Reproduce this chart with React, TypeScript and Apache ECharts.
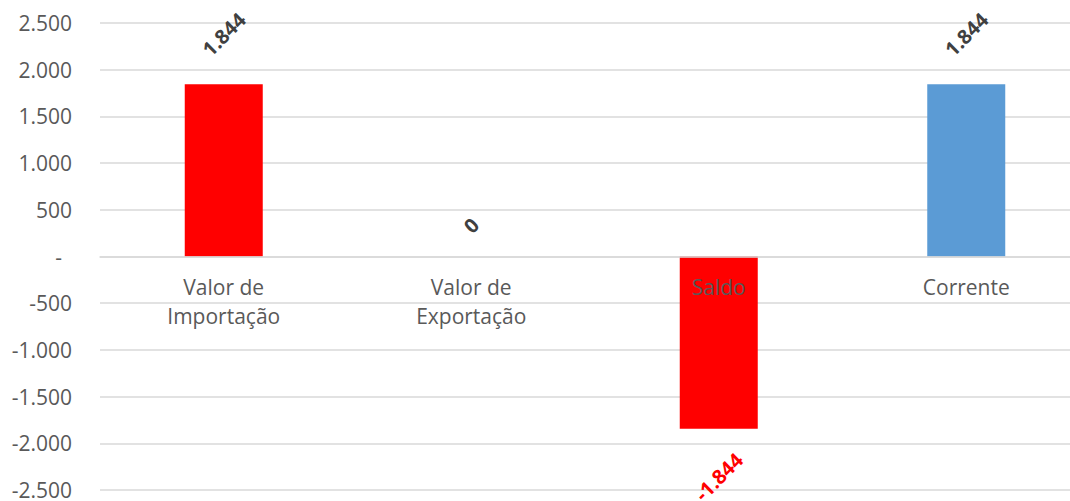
import React, { useEffect, useRef } from "react";
import * as echarts from "echarts";

const categories = ["Valor de\nImportação", "Valor de\nExportação", "Saldo", "Corrente"];
const values = [1844, 0, -1844, 1844];
const barColors = ["#FF0000", "#FF0000", "#FF0000", "#5B9BD5"];
const yMin = -2500;
const yMax = 2500;
const yInterval = 500;

const FONT = "'Open Sans', 'Noto Sans', sans-serif";
const GRID_TOP = 23;
const GRID_BOTTOM = 11;
const CHART_H = 501;

function fmt(v: number): string {
  const s = Math.round(Math.abs(v)).toString().replace(/\B(?=(\d{3})+(?!\d))/g, ".");
  return (v < 0 ? "-" : "") + s;
}

export default function App() {
  const ref = useRef<HTMLDivElement>(null);
  useEffect(() => {
    if (!ref.current) return;
    const chart = echarts.init(ref.current, null, { renderer: "svg" });
    const plotH = CHART_H - GRID_TOP - GRID_BOTTOM;
    const zeroFromBottom = (plotH * (0 - yMin)) / (yMax - yMin);
    const data = values.map((v, i) => {
      const neg = v < 0;
      const zero = v === 0;
      return {
        value: v,
        itemStyle: { color: barColors[i] },
        label: {
          show: true,
          position: neg ? "bottom" : "top",
          distance: zero ? 31 : neg ? 48 : 50,
          rotate: 45,
          align: "center",
          verticalAlign: "middle",
          color: neg ? "#FF0000" : "#404040",
          fontWeight: "bold",
          fontSize: 20,
          fontFamily: FONT,
          formatter: () => fmt(v),
        },
      };
    });
    chart.setOption({
      animation: false,
      grid: {
        left: 100,
        right: 0,
        top: GRID_TOP,
        bottom: GRID_BOTTOM,
        containLabel: false,
        outerBoundsMode: "none",
      },
      xAxis: {
        type: "category",
        data: categories,
        z: 5,
        position: "bottom",
        offset: -zeroFromBottom,
        axisLine: { show: true, onZero: false, lineStyle: { color: "#D9D9D9", width: 1.5 } },
        axisTick: { show: false },
        axisLabel: {
          color: "#595959",
          fontSize: 21,
          lineHeight: 29,
          margin: 16,
          fontFamily: FONT,
          interval: 0,
        },
      },
      yAxis: {
        type: "value",
        min: yMin,
        max: yMax,
        interval: yInterval,
        axisLine: { show: false },
        axisTick: { show: false },
        splitLine: { lineStyle: { color: "#D9D9D9", width: 1.5 } },
        axisLabel: {
          color: "#595959",
          fontSize: 21,
          fontFamily: FONT,
          margin: 28,
          formatter: (v: number) => (v === 0 ? "{z|-}" : fmt(v)),
          rich: {
            z: { color: "#595959", fontSize: 21, fontFamily: FONT, padding: [0, 10, 0, 0] },
          },
        },
      },
      series: [
        {
          type: "bar",
          data,
          barWidth: 78,
        },
      ],
    });
    return () => chart.dispose();
  }, []);
  return (
    <div
      ref={ref}
      style={{ position: "fixed", left: 0, top: 0, width: 1090, height: CHART_H, background: "#fff" }}
    />
  );
}
